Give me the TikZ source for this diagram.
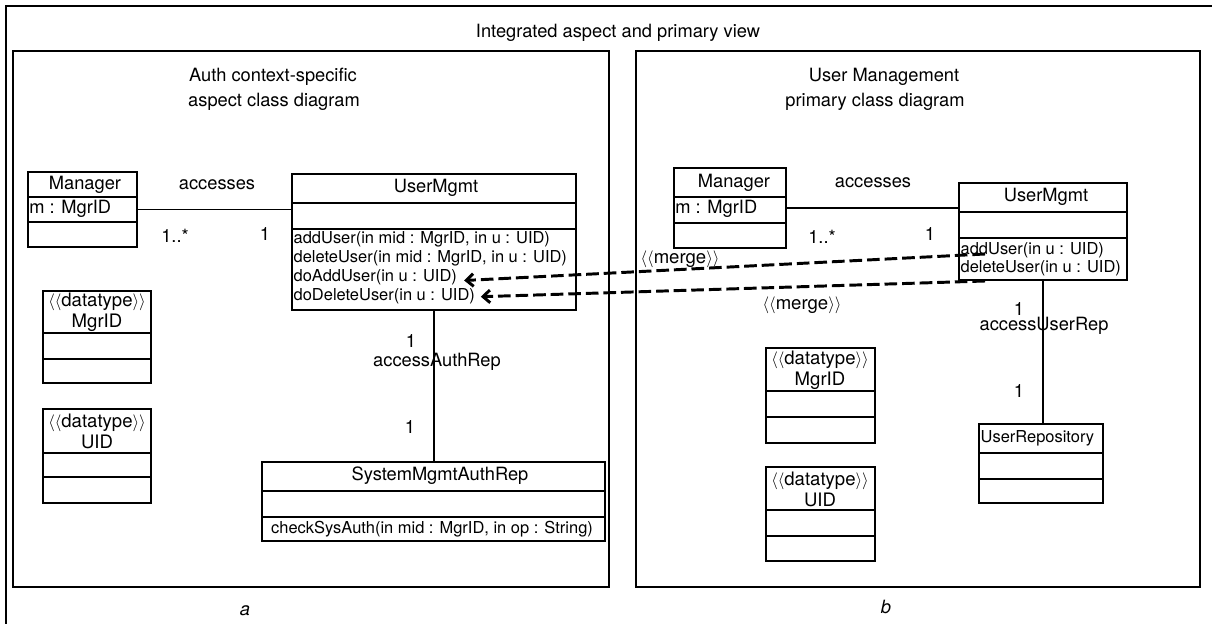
\documentclass[tikz,border=0pt]{standalone}
\usepackage{fontspec}
\setmainfont{TeX Gyre Heros}
\usetikzlibrary{fit,arrows.meta}

\newcommand{\stereo}[1]{$\langle\langle$#1$\rangle\rangle$}
% one compartment line across a class box
\newcommand{\classline}[2]{\draw[divider] (#1.west |- 0,#2) -- (#1.east |- 0,#2);}

\tikzset{
  panel/.style={draw, line width=1.5pt, inner sep=0pt},
  classbox/.style={draw, line width=1.3pt, inner sep=0pt},
  divider/.style={line width=1.3pt},
  assoc/.style={line width=1.3pt},
  merge/.style={line width=2.1pt, dash pattern=on 9pt off 3.5pt, -{Straight Barb[length=5pt,width=9pt]}},
  lbl/.style={font=\fontsize{13}{15}\selectfont, inner sep=0pt},
  op/.style={font=\fontsize{11.7}{13}\selectfont, inner sep=1pt, anchor=west},
  dtype/.style={font=\fontsize{13.2}{15}\selectfont, align=center, inner sep=0pt},
}

\begin{document}
\begin{tikzpicture}[x=0.025cm, y=-0.025cm]
	\useasboundingbox (0,0) rectangle (1212,624);
	
	%Outer frame
	\draw[line width=1.5pt] (6,624) -- (6,6) -- (1212,6);
	\node[lbl] (title) at (618,33) {Integrated aspect and primary view};
	
	%Panels
	\node[panel, fit={(13,51) (609,587)}] (lpanel) {};
	\node[panel, fit={(636,51) (1200,587)}] (rpanel) {};
	\node[lbl] (lt1) at (273,77) {Auth context-specific};
	\node[lbl] (lt2) at (274,102) {aspect class diagram};
	\node[lbl] (rt1) at (884,77) {User Management};
	\node[lbl] (rt2) at (875,102) {primary class diagram};
	\node[lbl, font=\fontsize{13}{15}\selectfont\itshape] (la) at (245,611) {a};
	\node[lbl, font=\fontsize{13}{15}\selectfont\itshape] (lb) at (886,607) {b};
	
	%One class: Manager (aspect)
	\node[classbox, fit={(28,172) (137,247)}] (lmgr) {};
	\classline{lmgr}{197}
	\classline{lmgr}{222}
	\node[lbl] (lmgrn) at (85,185) {Manager};
	\node[lbl, anchor=west] (lmgra) at (29,209) {m : MgrID};
	
	%One class: UserMgmt (aspect)
	\node[classbox, fit={(292,174) (576,310)}] (lum) {};
	\classline{lum}{203}
	\classline{lum}{229}
	\node[lbl] (lumn) at (436,188) {UserMgmt};
	\node[op] (laddop) at (292,239) {addUser(in mid : MgrID, in u : UID)};
	\node[op] (ldelop) at (292,258) {deleteUser(in mid : MgrID, in u : UID)};
	\node[op] (ldoadd) at (292,277) {doAddUser(in u : UID)};
	\node[op] (ldodel) at (292,296) {doDeleteUser(in u : UID)};
	
	%One class: SystemMgmtAuthRep
	\node[classbox, fit={(262,462) (605,541)}] (sysrep) {};
	\classline{sysrep}{491}
	\classline{sysrep}{517}
	\node[lbl] (sysrepn) at (440,476) {SystemMgmtAuthRep};
	\node[op, anchor=center] (sysop) at (432,529) {checkSysAuth(in mid : MgrID, in op : String)};
	
	%Datatypes (aspect)
	\node[classbox, fit={(43,291) (151,383)}] (lmid) {};
	\classline{lmid}{333}
	\classline{lmid}{359}
	\node[dtype] (lmidn) at (97,312) {\stereo{datatype}\\MgrID};
	\node[classbox, fit={(43,409) (151,503)}] (luid) {};
	\classline{luid}{453}
	\classline{luid}{477}
	\node[dtype] (luidn) at (97,431) {\stereo{datatype}\\UID};
	
	%Associations (aspect)
	\draw[assoc] (lmgr.east) -- (lmgr.east -| lum.west);
	\node[lbl] (lacc) at (217,185) {accesses};
	\node[lbl] (lacc1) at (175,236) {1..*};
	\node[lbl] (lacc2) at (265,234) {1};
	\draw[assoc] (lum.south) -- (lum.south |- sysrep.north);
	\node[lbl] (lauth1) at (411,341) {1};
	\node[lbl] (lauth) at (437,362) {accessAuthRep};
	\node[lbl] (lauth2) at (410,427) {1};
	
	%One class: Manager (primary)
	\node[classbox, fit={(674,168) (786,248)}] (rmgr) {};
	\classline{rmgr}{197}
	\classline{rmgr}{223}
	\node[lbl] (rmgrn) at (734,183) {Manager};
	\node[lbl, anchor=west] (rmgra) at (675,209) {m : MgrID};
	
	%One class: UserMgmt (primary)
	\node[classbox, fit={(959,183) (1127,280)}] (rum) {};
	\classline{rum}{212}
	\classline{rum}{238}
	\node[lbl] (rumn) at (1046,197) {UserMgmt};
	\node[op] (raddop) at (959,250) {addUser(in u : UID)};
	\node[op] (rdelop) at (959,268) {deleteUser(in u : UID)};
	
	%One class: UserRepository
	\node[classbox, fit={(979,424) (1103,503)}] (urep) {};
	\classline{urep}{453}
	\classline{urep}{479}
	\node[op] (urepn) at (979,438) {UserRepository};
	
	%Datatypes (primary)
	\node[classbox, fit={(766,348) (875,443)}] (rmid) {};
	\classline{rmid}{391}
	\classline{rmid}{417}
	\node[dtype] (rmidn) at (820,370) {\stereo{datatype}\\MgrID};
	\node[classbox, fit={(766,467) (875,561)}] (ruid) {};
	\classline{ruid}{510}
	\classline{ruid}{536}
	\node[dtype] (ruidn) at (820,489) {\stereo{datatype}\\UID};
	
	%Associations (primary)
	\draw[assoc] (rmgr.east) -- (rmgr.east -| rum.west);
	\node[lbl] (racc) at (873,183) {accesses};
	\node[lbl] (racc1) at (822,237) {1..*};
	\node[lbl] (racc2) at (930,234) {1};
	\draw[assoc] (rum.south) -- (rum.south |- urep.north);
	\node[lbl] (rrep1) at (1019,309) {1};
	\node[lbl] (rrep) at (1044,326) {accessUserRep};
	\node[lbl] (rrep2) at (1019,391) {1};
	
	%Merge dependencies
	\coordinate (m1) at (985,254);
	\coordinate (m2) at (985,281);
	\draw[merge] (m1) -- ([xshift=4pt,yshift=-2.5pt]ldoadd.east);
	\draw[merge] (m2) -- ([xshift=3pt,yshift=-0.5pt]ldodel.east);
	\node[dtype] (mlbl1) at (680,259) {\stereo{merge}};
	\node[dtype] (mlbl2) at (802,305) {\stereo{merge}};
\end{tikzpicture}
\end{document}
